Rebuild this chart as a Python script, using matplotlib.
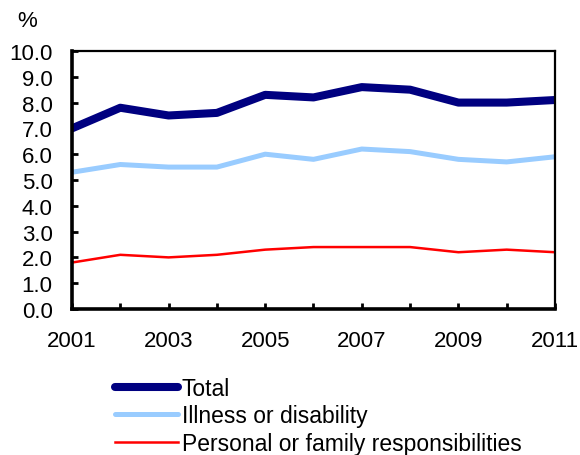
import matplotlib
matplotlib.use("Agg")
import matplotlib.pyplot as plt

plt.rcParams["font.family"] = ["Liberation Sans", "DejaVu Sans"]

years = [2001, 2002, 2003, 2004, 2005, 2006, 2007, 2008, 2009, 2010, 2011]
total = [7.0, 7.8, 7.5, 7.6, 8.3, 8.2, 8.6, 8.5, 8.0, 8.0, 8.1]
illness = [5.3, 5.6, 5.5, 5.5, 6.0, 5.8, 6.2, 6.1, 5.8, 5.7, 5.9]
personal = [1.8, 2.1, 2.0, 2.1, 2.3, 2.4, 2.4, 2.4, 2.2, 2.3, 2.2]
year_labels = [str(y) if (y - 2001) % 2 == 0 else "" for y in years]
y_ticks = [i * 1.0 for i in range(11)]

fig = plt.figure(figsize=(5.8, 4.56), dpi=100)
ax = fig.add_axes([0.1241, 0.3202, 0.8328, 0.5658])

ax.plot(years, total, color="#000080", linewidth=5.8, label="Total", solid_capstyle="round")
ax.plot(years, illness, color="#99CCFF", linewidth=3.6, label="Illness or disability", solid_capstyle="round")
ax.plot(years, personal, color="#FF0000", linewidth=1.8, label="Personal or family responsibilities")

ax.set_xlim(2001, 2011)
ax.set_ylim(0, 10)
ax.set_xticks(years)
ax.set_xticklabels(year_labels)
ax.set_yticks(y_ticks)
ax.set_yticklabels([f"{v:.1f}" for v in y_ticks])
ax.tick_params(axis="both", direction="in", length=4, width=2, labelsize=16, colors="black")
ax.tick_params(axis="y", pad=14)
ax.tick_params(axis="x", pad=15)
for side in ["left", "bottom"]:
    ax.spines[side].set_linewidth(2.6)
for side in ["top", "right"]:
    ax.spines[side].set_linewidth(1.6)

fig.text(0.03, 0.975, "%", fontsize=16, va="top", ha="left")

fig.legend(loc="upper left", bbox_to_anchor=(0.198, 0.172), frameon=False, fontsize=16.5,
           handlelength=2.75, handletextpad=0.17, labelspacing=0.2, borderaxespad=0, borderpad=0)

fig.savefig("out.png", dpi=100)
